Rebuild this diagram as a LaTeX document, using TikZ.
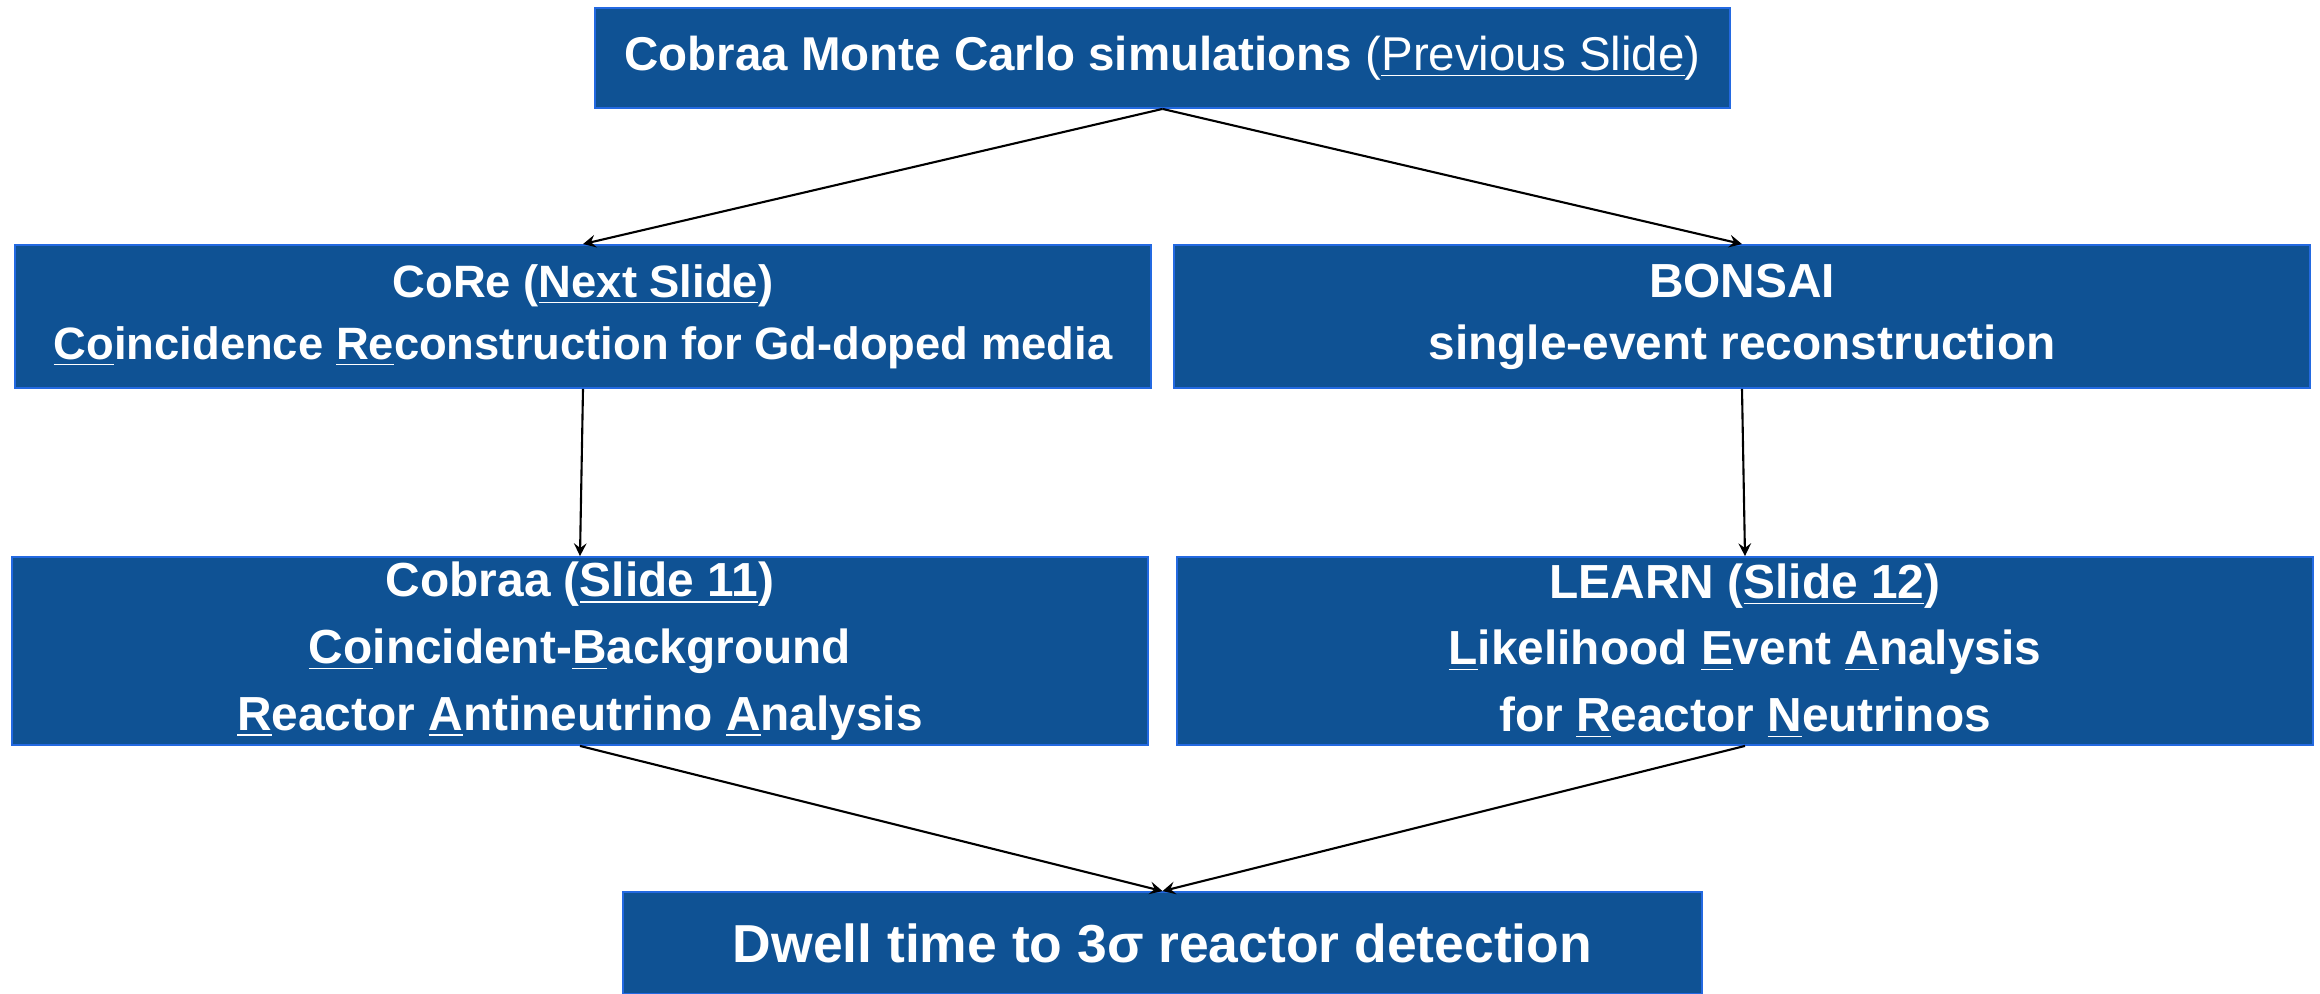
\documentclass[tikz,border=0pt]{standalone}
\usepackage{fontspec}
\setmainfont{Liberation Sans}
\usetikzlibrary{arrows}

\definecolor{boxfill}{RGB}{15,82,148}
\definecolor{boxline}{RGB}{35,105,225}

\begin{document}
\begin{tikzpicture}
[->,>=stealth,semithick,%
  every node/.style={rectangle,fill=boxfill,draw=boxline,line width=0.5pt,
    text=white,align=center,inner sep=0pt,font=\bfseries},%
  x=0.01cm,y=-0.01cm]
\useasboundingbox (0,0) rectangle (2320,993);
\node[minimum width=11.35cm,minimum height=1cm,
  font=\fontsize{13.5}{15}\selectfont\bfseries] (mc) at (1162.5,58)
  {Cobraa Monte Carlo simulations \textmd{(\underline{Previous Slide})}};
\node[minimum width=11.36cm,minimum height=1.43cm,
  font=\fontsize{12.9}{17.6}\selectfont\bfseries] (core) at (583,316.5)
  {CoRe (\underline{Next Slide})\\
   \underline{Co}incidence \underline{Re}construction for Gd-doped media};
\node[minimum width=11.36cm,minimum height=1.43cm,
  font=\fontsize{13.6}{17.6}\selectfont\bfseries] (bonsai) at (1742,316.5)
  {BONSAI\\single-event reconstruction};
\node[minimum width=11.36cm,minimum height=1.88cm,
  font=\fontsize{13.6}{19}\selectfont\bfseries] (cobraa) at (580,651)
  {Cobraa (\underline{Slide 11})\\
   \underline{Co}incident-\underline{B}ackground\\
   \underline{R}eactor \underline{A}ntineutrino \underline{A}nalysis};
\node[minimum width=11.36cm,minimum height=1.88cm,
  font=\fontsize{13.6}{19}\selectfont\bfseries] (learn) at (1745,651)
  {LEARN (\underline{Slide 12})\\
   \underline{L}ikelihood \underline{E}vent \underline{A}nalysis\\
   for \underline{R}eactor \underline{N}eutrinos};
\node[minimum width=10.79cm,minimum height=1.02cm,
  font=\fontsize{15.2}{18}\selectfont\bfseries] (dwell) at (1162.5,943)
  {Dwell time to 3σ reactor detection};
\path
(mc.south) edge (core.north)
(mc.south) edge (bonsai.north)
(core.south) edge (cobraa.north)
(bonsai.south) edge (learn.north)
(cobraa.south) edge (dwell.north)
(learn.south) edge (dwell.north);
\end{tikzpicture}
\end{document}
